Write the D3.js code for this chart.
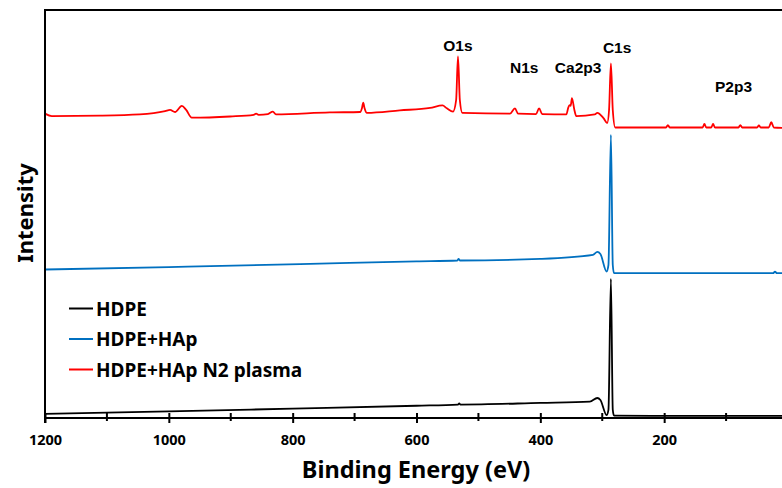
<!DOCTYPE html>
<html>
<head>
<meta charset="utf-8">
<script src="https://cdn.jsdelivr.net/npm/d3@7"></script>
<style>
  html, body { margin: 0; padding: 0; background: #fff; }
  svg { display: block; }
</style>
</head>
<body>
<svg id="chart" width="782" height="488"></svg>
<script>
// XPS survey spectra: binding energy (eV) vs. intensity (a.u., vertically offset)
const hdpe = [
  [1200, 1.0], [1000, 1.6], [800, 2.3], [600, 3.0], [533, 3.3], [531, 3.6], [529, 3.3],
  [400, 3.7], [320, 4.0], [308, 4.9], [303, 4.4], [293, 0.7], [290, 2.0],
  [286, 34.1], [283, 2.0], [281, 0.6], [200, 0.5], [0, 0.5]
];

const hdpeHap = [
  [1200, 36.4], [1000, 37.0], [788, 37.7], [600, 38.4], [534, 38.6], [532, 39.0], [530, 38.6],
  [400, 39.0], [315, 40.0], [308, 40.7], [303, 40.2], [293, 35.9], [290, 37.5],
  [286, 69.4], [283, 37.5], [281, 35.5], [100, 35.5], [24, 35.5], [21, 35.9], [18, 35.5], [0, 35.5]
];

const hdpeHapN2 = [
  [1200, 74.6], [1189, 74.0], [1111, 74.1], [1047, 74.4], [1006, 75.2], [998, 75.5],
  [990, 75.0], [979, 76.5], [972, 75.5], [963, 73.6], [901, 73.9], [863, 74.3],
  [859, 74.6], [855, 74.3], [840, 74.5], [832, 75.1], [827, 74.4], [740, 74.9],
  [691, 75.0], [688, 76.0], [686, 77.3], [684, 76.0], [680, 74.8], [627, 75.4],
  [578, 76.0], [558, 76.6], [551, 75.9], [541, 75.1], [536, 77.9], [533, 88.6],
  [530, 77.9], [526, 74.8], [449, 74.6], [441, 75.9], [436, 74.6], [407, 74.5],
  [402, 75.9], [397, 74.5], [358, 74.4], [355, 76.0], [353, 76.7], [351, 76.5],
  [349, 78.4], [345, 75.5], [342, 74.0], [312, 74.4], [308, 74.8], [298, 73.5],
  [292, 72.3], [289, 75.5], [286, 86.9], [283, 75.5], [279, 71.2],
  [197, 71.2], [194, 71.8], [191, 71.2], [138, 71.2], [135, 72.1], [132, 71.2],
  [124, 71.2], [121, 72.1], [118, 71.2], [80, 71.2], [77, 71.8], [74, 71.2],
  [50, 71.2], [47, 71.7], [44, 71.2], [31, 71.2], [27, 72.5], [23, 71.2], [0, 71.1]
];

const seriesNames = ["HDPE", "HDPE+HAp", "HDPE+HAp N2 plasma"];
const seriesColors = ["#000000", "#0070C0", "#FF0000"];

const majorTicks = [1200, 1000, 800, 600, 400, 200];
const minorTicks = [1100, 900, 700, 500, 300, 100];

const peakLabels = ["O1s", "N1s", "Ca2p3", "C1s", "P2p3"];
const peakEnergies = [533, 426, 339, 276, 88];
const peakLabelLevels = [90.0, 84.6, 84.6, 89.5, 79.8];

const svg = d3.select("#chart");
const margin = { left: 45, top: 10, bottom: 418 };

const x = d3.scaleLinear().domain([1200, 0]).range([45, 788]);
const y = d3.scaleLinear().domain([0, 100]).range([418, 10]);

svg.append("defs").append("clipPath").attr("id", "plotClip")
  .append("rect").attr("x", 45).attr("y", 10).attr("width", 745).attr("height", 408);

const line = d3.line().x(d => x(d[0])).y(d => y(d[1])).curve(d3.curveMonotoneX);

const plot = svg.append("g").attr("clip-path", "url(#plotClip)");
[hdpe, hdpeHap, hdpeHapN2].forEach((data, i) => {
  plot.append("path")
    .datum(data)
    .attr("fill", "none")
    .attr("stroke", seriesColors[i])
    .attr("stroke-width", 1.8)
    .attr("stroke-linejoin", "round")
    .attr("d", line);
});

// frame: top border and left axis
svg.append("line").attr("x1", 45).attr("x2", 790).attr("y1", 10).attr("y2", 10)
  .attr("stroke", "#000").attr("stroke-width", 2);
svg.append("line").attr("x1", 45).attr("x2", 45).attr("y1", 9).attr("y2", 423)
  .attr("stroke", "#000").attr("stroke-width", 2);

// bottom axis with ticks crossing the axis line
const xAxis = svg.append("g").attr("transform", `translate(0,${margin.bottom})`)
  .call(d3.axisBottom(x).tickValues(majorTicks).tickSize(5).tickPadding(12).tickFormat(d3.format("d")));
xAxis.select(".domain").attr("stroke-width", 2).attr("d", `M45,0H790`);
xAxis.selectAll(".tick line").attr("y1", -5).attr("y2", 5).attr("stroke-width", 2);
xAxis.selectAll(".tick text")
  .attr("font-family", "'Noto Sans', sans-serif")
  .attr("font-size", 14.5).attr("font-weight", "bold").attr("fill", "#000");

svg.append("g").selectAll("line").data(minorTicks).join("line")
  .attr("x1", d => x(d)).attr("x2", d => x(d))
  .attr("y1", margin.bottom - 5).attr("y2", margin.bottom + 3)
  .attr("stroke", "#000").attr("stroke-width", 2);

// axis titles
svg.append("text")
  .attr("x", 416).attr("y", 478)
  .attr("text-anchor", "middle")
  .attr("font-family", "'Noto Sans', sans-serif")
  .attr("font-size", 23.5).attr("font-weight", "bold")
  .text("Binding Energy (eV)");

svg.append("text")
  .attr("transform", "translate(33,213) rotate(-90)")
  .attr("text-anchor", "middle")
  .attr("font-family", "'Noto Sans', sans-serif")
  .attr("font-size", 22).attr("font-weight", "bold")
  .text("Intensity");

// peak assignments
svg.append("g").selectAll("text").data(peakLabels).join("text")
  .attr("x", (d, i) => x(peakEnergies[i]))
  .attr("y", (d, i) => y(peakLabelLevels[i]))
  .attr("text-anchor", "middle")
  .attr("font-family", "'Liberation Sans', Arial, sans-serif")
  .attr("font-size", 15.5).attr("font-weight", "bold")
  .text(d => d);

// legend
const legend = svg.append("g");
seriesNames.forEach((name, i) => {
  const ly = 308.5 + i * 30.5;
  legend.append("line").attr("x1", 69).attr("x2", 93).attr("y1", ly).attr("y2", ly)
    .attr("stroke", seriesColors[i]).attr("stroke-width", 2);
  legend.append("text").attr("x", 96).attr("y", ly + 7)
    .attr("font-family", "'Noto Sans', sans-serif")
    .attr("font-size", 19).attr("font-weight", "bold")
    .text(name);
});
</script>
</body>
</html>
